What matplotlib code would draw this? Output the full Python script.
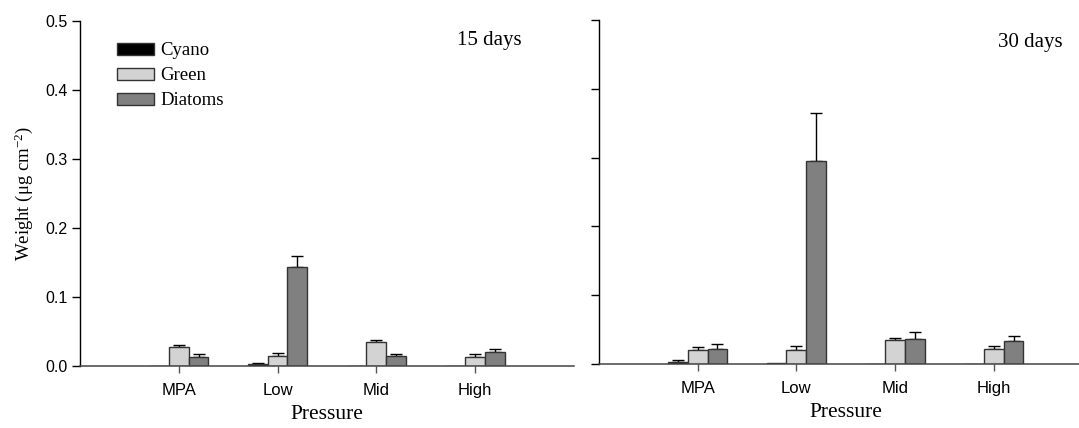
import matplotlib
matplotlib.use("Agg")
import matplotlib.pyplot as plt
from matplotlib.patches import Patch
import numpy as np

plt.rcParams['mathtext.fontset'] = 'custom'
plt.rcParams['mathtext.rm'] = 'Liberation Serif'
plt.rcParams['mathtext.it'] = 'Liberation Serif:italic'

sites = ['MPA', 'Low', 'Mid', 'High']
groups = ['Cyano', 'Green', 'Diatoms']
colors = ['#000000', '#d3d3d3', '#808080']

# 15 days
cyano_15 = [0.0, 0.0025, 0.0, 0.0]
cyano_15_se = [0.0, 0.0012, 0.0, 0.0]
green_15 = [0.028, 0.0145, 0.034, 0.0136]
green_15_se = [0.003, 0.0045, 0.003, 0.003]
diatoms_15 = [0.013, 0.1435, 0.0145, 0.0203]
diatoms_15_se = [0.0044, 0.0165, 0.0035, 0.0043]

# 30 days
cyano_30 = [0.0028, 0.0018, 0.0, 0.0005]
cyano_30_se = [0.003, 0.0, 0.0, 0.0]
green_30 = [0.0203, 0.0208, 0.0358, 0.0228]
green_30_se = [0.004, 0.0062, 0.002, 0.003]
diatoms_30 = [0.0222, 0.2948, 0.0363, 0.0334]
diatoms_30_se = [0.0078, 0.07, 0.0098, 0.0077]

serif = 'Liberation Serif'
sans = 'Liberation Sans'

fig = plt.figure(figsize=(10.79, 4.28), dpi=100)
ax1 = fig.add_axes([0.0741, 0.145, 0.4578, 0.806])
ax2 = fig.add_axes([0.5551, 0.149, 0.4574, 0.805])


def panel(ax, vals, errs, label, lx, ly, show_ylabels):
    x = np.arange(1, len(sites) + 1)
    w = 0.2
    for i, (v, e) in enumerate(zip(vals, errs)):
        pos = x + (i - 1) * w
        ax.bar(pos, v, width=w, color=colors[i], edgecolor='#333333',
               linewidth=1.0, zorder=2)
        v = np.array(v)
        e = np.array(e)
        m = e > 0
        ax.errorbar(pos[m], v[m], yerr=[np.zeros(m.sum()), e[m]], fmt='none',
                    ecolor='black', elinewidth=1.0, capsize=4, capthick=1.0,
                    zorder=1)
    ax.set_xlim(0, 5)
    ax.set_ylim(0, 0.5)
    ax.set_xticks(x)
    ax.set_xticklabels(sites, fontfamily=sans, fontsize=12)
    ax.set_yticks([0, 0.1, 0.2, 0.3, 0.4, 0.5])
    if show_ylabels:
        ax.set_yticklabels(['0.0', '0.1', '0.2', '0.3', '0.4', '0.5'],
                           fontfamily=sans, fontsize=11.5)
    else:
        ax.set_yticklabels([])
    ax.tick_params(axis='y', length=6, width=1, direction='out', pad=3)
    ax.tick_params(axis='x', length=5, width=1, direction='out', pad=7,
                   color='#555555')
    ax.spines['top'].set_visible(False)
    ax.spines['right'].set_visible(False)
    ax.spines['left'].set_linewidth(1)
    ax.spines['bottom'].set_linewidth(1.1)
    ax.spines['bottom'].set_color('#444444')
    ax.set_xlabel('Pressure', fontfamily=serif, fontsize=15.5, labelpad=5)
    ax.text(lx, ly, label, transform=ax.transAxes, ha='right', va='top',
            fontfamily=serif, fontsize=15)


panel(ax1, [cyano_15, green_15, diatoms_15],
      [cyano_15_se, green_15_se, diatoms_15_se], '15 days', 0.895, 0.97, True)
panel(ax2, [cyano_30, green_30, diatoms_30],
      [cyano_30_se, green_30_se, diatoms_30_se], '30 days', 0.94, 0.962, False)

ax1.set_ylabel('Weight (\u03bcg cm$^{-2}$)', fontfamily=serif, fontsize=13.5,
               labelpad=7)

handles = [Patch(facecolor=c, edgecolor='#333333', linewidth=1.0)
           for c in colors]
ax1.legend(handles, groups, loc='upper left', bbox_to_anchor=(0.056, 0.965),
           frameon=False, borderpad=0, handlelength=2.0, handleheight=0.6,
           handletextpad=0.3, labelspacing=0.42,
           prop={'family': serif, 'size': 13.5})

fig.savefig('out.png', dpi=100)
